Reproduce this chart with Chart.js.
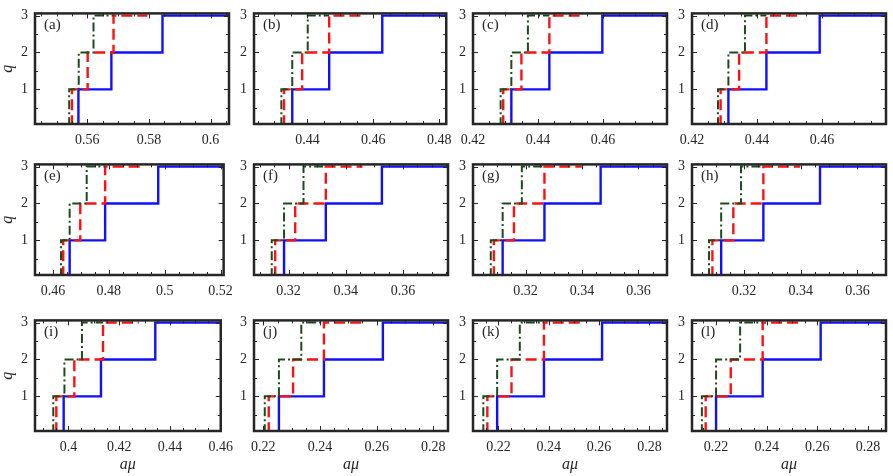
<!DOCTYPE html>
<html>
<head>
<meta charset="utf-8">
<script src="https://cdn.jsdelivr.net/npm/chart.js@4.4.0/dist/chart.umd.min.js"></script>
<style>
    html, body { margin: 0; padding: 0; background: #fff; }
    #fig { position: relative; width: 893px; height: 476px; overflow: hidden; }
    #fig canvas { position: absolute; }
</style>
</head>
<body>
<div id="fig"></div>
<script>
// Panel data, one entry per panel (a) .. (l)
const panelLabels = ['(a)', '(b)', '(c)', '(d)', '(e)', '(f)', '(g)', '(h)', '(i)', '(j)', '(k)', '(l)'];
const xMin = [0.543, 0.4238, 0.42, 0.42, 0.4536, 0.3079, 0.3014, 0.3016, 0.3868, 0.2167, 0.2099, 0.2105];
const xMax = [0.606, 0.4821, 0.4797, 0.4797, 0.5211, 0.3757, 0.3701, 0.3701, 0.46, 0.2852, 0.2870, 0.2871];
const xTickValues = [
    [0.56, 0.58, 0.6], [0.44, 0.46, 0.48], [0.42, 0.44, 0.46], [0.42, 0.44, 0.46],
    [0.46, 0.48, 0.5, 0.52], [0.32, 0.34, 0.36], [0.32, 0.34, 0.36], [0.32, 0.34, 0.36],
    [0.4, 0.42, 0.44, 0.46], [0.22, 0.24, 0.26, 0.28], [0.22, 0.24, 0.26, 0.28], [0.22, 0.24, 0.26, 0.28]
];
const yTickValues = [1, 2, 3];
const yMin = 0.06;
const yMax = 3.06;

// q levels of each staircase, and the a*mu where each level starts (last = where the line stops)
const qLevels = [0, 1, 2, 3];
const solidSteps = [
    [0.5571, 0.5678, 0.5844, 0.606], [0.4354, 0.4466, 0.4627, 0.4821],
    [0.4318, 0.4435, 0.4598, 0.4797], [0.4312, 0.4429, 0.4593, 0.4797],
    [0.4660, 0.4787, 0.4977, 0.5211], [0.3184, 0.3330, 0.3526, 0.3757],
    [0.3119, 0.3267, 0.3466, 0.3701], [0.3119, 0.3268, 0.3468, 0.3701],
    [0.3981, 0.4128, 0.4342, 0.46], [0.2255, 0.2414, 0.2622, 0.2852],
    [0.2195, 0.2381, 0.2612, 0.2870], [0.2200, 0.2384, 0.2613, 0.2871]
];
const dashedSteps = [
    [0.5550, 0.5601, 0.5685, 0.5795], [0.4329, 0.4384, 0.4466, 0.4566],
    [0.4293, 0.4349, 0.4435, 0.4536], [0.4288, 0.4345, 0.4429, 0.4534],
    [0.4637, 0.4698, 0.4787, 0.4911], [0.3153, 0.3223, 0.3330, 0.3458],
    [0.3088, 0.3159, 0.3267, 0.3399], [0.3088, 0.3162, 0.3268, 0.3398],
    [0.3952, 0.4023, 0.4136, 0.4277], [0.2219, 0.2305, 0.2414, 0.2551],
    [0.2156, 0.2252, 0.2381, 0.2537], [0.2159, 0.2258, 0.2384, 0.2541]
];
const dashDotSteps = [
    [0.5541, 0.5572, 0.5620, 0.5685], [0.4321, 0.4354, 0.4401, 0.4466],
    [0.4285, 0.4318, 0.4369, 0.4435], [0.4280, 0.4312, 0.4363, 0.4429],
    [0.4629, 0.4660, 0.4721, 0.4787], [0.3141, 0.3184, 0.3252, 0.3330],
    [0.3077, 0.3119, 0.3187, 0.3267], [0.3076, 0.3119, 0.3189, 0.3268],
    [0.3940, 0.3984, 0.4053, 0.4136], [0.2205, 0.2255, 0.2334, 0.2414],
    [0.2140, 0.2195, 0.2285, 0.2381], [0.2144, 0.2200, 0.2295, 0.2384]
];

// Layout of the 3x4 grid (plot-area corners in page pixels)
const colLeft = [35, 254, 473, 692];
const rowTop = [6, 157, 313];
const plotW = 194, plotH = 118;
const padTop = 8, padRight = 12, yAxisW = 35, xAxisH = 45;

const AXIS_COLOR = '#262626';
const FONT = '"Liberation Serif", "Times New Roman", serif';

// Inward MATLAB-style ticks, box and in-panel labels
const framePlugin = {
    id: 'frame',
    afterDatasetsDraw(chart, args, opts) {
        const { ctx, chartArea: a, scales: { x, y } } = chart;
        ctx.save();
        ctx.strokeStyle = AXIS_COLOR;
        ctx.lineWidth = 1;
        ctx.beginPath();
        const minorX = 0.005;
        const startX = Math.ceil(x.min / minorX - 1e-6);
        for (let k = startX; k * minorX <= x.max + 1e-9; k++) {
            const v = k * minorX;
            const px = Math.round(x.getPixelForValue(v)) + 0.5;
            const len = (k % 4 === 0) ? 5 : 3;
            ctx.moveTo(px, a.bottom); ctx.lineTo(px, a.bottom - len);
            ctx.moveTo(px, a.top); ctx.lineTo(px, a.top + len);
        }
        for (let k = 1; k * 0.5 <= y.max; k++) {
            const py = Math.round(y.getPixelForValue(k * 0.5)) + 0.5;
            const len = (k % 2 === 0) ? 5 : 3;
            ctx.moveTo(a.left, py); ctx.lineTo(a.left + len, py);
            ctx.moveTo(a.right, py); ctx.lineTo(a.right - len, py);
        }
        ctx.stroke();
        ctx.lineWidth = 2.5;
        ctx.strokeRect(a.left, a.top, a.width, a.height);

        ctx.fillStyle = AXIS_COLOR;
        ctx.font = '15px ' + FONT;
        ctx.textBaseline = 'alphabetic';
        ctx.textAlign = 'left';
        ctx.fillText(opts.label, a.left + 9, a.top + 16);

        ctx.font = 'italic 16px ' + FONT;
        if (opts.showY) {
            ctx.save();
            ctx.translate(a.left - 27, (a.top + a.bottom) / 2);
            ctx.rotate(-Math.PI / 2);
            ctx.textAlign = 'center';
            ctx.textBaseline = 'middle';
            ctx.fillText('q', 0, 0);
            ctx.restore();
        }
        if (opts.showX) {
            ctx.textAlign = 'center';
            ctx.textBaseline = 'middle';
            ctx.fillText('a\u03bc', (a.left + a.right) / 2, a.bottom + 34);
        }
        ctx.restore();
    }
};

function stairs(steps) {
    return steps.map((v, k) => ({ x: v, y: qLevels[k] }));
}

function createPanel(i) {
    const row = Math.floor(i / 4), col = i % 4;
    const canvas = document.createElement('canvas');
    canvas.width = yAxisW + plotW + padRight;
    canvas.height = padTop + plotH + xAxisH;
    canvas.style.left = (colLeft[col] - yAxisW) + 'px';
    canvas.style.top = (rowTop[row] - padTop) + 'px';
    document.getElementById('fig').appendChild(canvas);

    const line = { pointRadius: 0, fill: false, stepped: 'after', tension: 0 };
    return new Chart(canvas.getContext('2d'), {
        type: 'line',
        data: {
            datasets: [
                { ...line, data: stairs(dashDotSteps[i]), borderColor: '#1d4a1d', borderWidth: 2, borderDash: [9, 3, 2, 3] },
                { ...line, data: stairs(dashedSteps[i]), borderColor: '#ff1010', borderWidth: 2.4, borderDash: [11, 5] },
                { ...line, data: stairs(solidSteps[i]), borderColor: '#1010ff', borderWidth: 2.4 }
            ]
        },
        options: {
            responsive: false,
            animation: false,
            devicePixelRatio: 1,
            layout: { padding: { top: padTop, right: padRight, bottom: 0, left: 0 } },
            plugins: {
                legend: { display: false },
                tooltip: { enabled: false },
                frame: { label: panelLabels[i], showY: col === 0, showX: row === 2 }
            },
            scales: {
                x: {
                    type: 'linear',
                    min: xMin[i],
                    max: xMax[i],
                    grid: { display: false, drawTicks: false },
                    border: { display: false },
                    afterBuildTicks: s => { s.ticks = xTickValues[i].map(v => ({ value: v })); },
                    afterFit: s => { s.height = xAxisH; },
                    ticks: {
                        autoSkip: false,
                        maxRotation: 0,
                        padding: 8,
                        color: AXIS_COLOR,
                        font: { family: FONT, size: 14 },
                        callback: v => String(+(+v).toFixed(2))
                    }
                },
                y: {
                    type: 'linear',
                    min: yMin,
                    max: yMax,
                    grid: { display: false, drawTicks: false },
                    border: { display: false },
                    afterBuildTicks: s => { s.ticks = yTickValues.map(v => ({ value: v })); },
                    afterFit: s => { s.width = yAxisW; },
                    ticks: {
                        padding: 7,
                        color: AXIS_COLOR,
                        font: { family: FONT, size: 14 },
                        callback: v => String(v)
                    }
                }
            }
        },
        plugins: [framePlugin]
    });
}

for (let i = 0; i < 12; i++) createPanel(i);
</script>
</body>
</html>
